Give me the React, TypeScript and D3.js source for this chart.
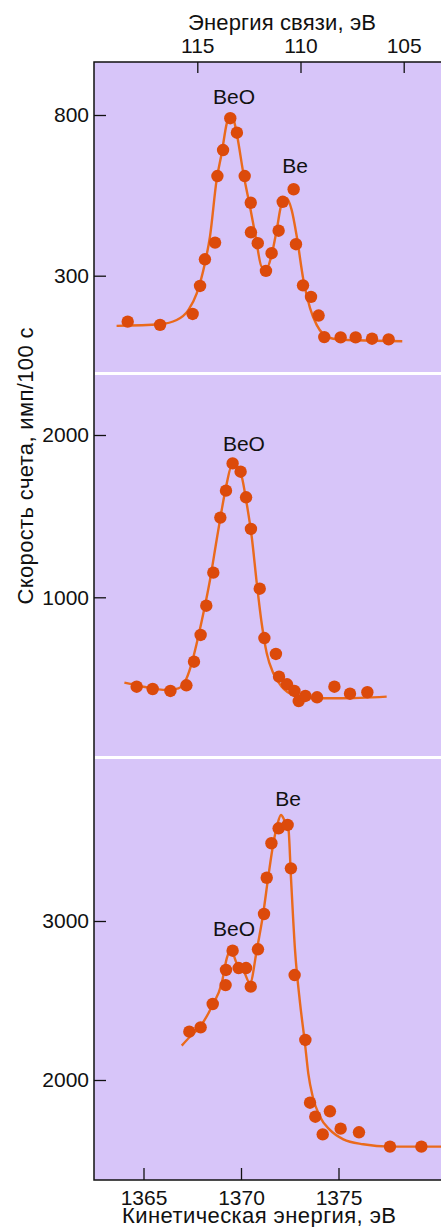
import React, { useRef, useEffect } from 'react';
import * as d3 from 'd3';

// kinetic energy (eV) / count rate pairs
const topDots: [number, number][] = [
  [1364.19, 157], [1365.85, 147], [1367.52, 181], [1367.9, 268], [1368.15, 351],
  [1368.67, 403], [1368.79, 610], [1369.08, 691], [1369.45, 790], [1369.79, 745],
  [1370.19, 610], [1370.5, 527], [1370.51, 435], [1370.86, 401], [1371.28, 315],
  [1371.57, 370], [1371.93, 440], [1372.14, 530], [1372.7, 569], [1372.82, 398],
  [1373.18, 270], [1373.59, 234], [1373.98, 176], [1374.27, 109], [1375.11, 108],
  [1375.88, 108], [1376.72, 104], [1377.57, 102],
];
const topFit: [number, number][] = [
  [1363.62, 144], [1365.85, 149], [1366.7, 162], [1367.3, 193], [1367.73, 245],
  [1368.15, 339], [1368.41, 422], [1368.75, 598], [1369.01, 681], [1369.27, 774],
  [1369.44, 800], [1369.64, 782], [1369.81, 733], [1370.12, 619], [1370.46, 515],
  [1370.75, 422], [1371.06, 328], [1371.32, 323], [1371.57, 365], [1371.83, 442],
  [1372.09, 525], [1372.34, 541], [1372.6, 504], [1372.86, 422], [1373.2, 287],
  [1373.54, 199], [1373.88, 147], [1374.22, 118], [1374.73, 104], [1375.93, 99],
  [1378.27, 96],
];

const midDots: [number, number][] = [
  [1364.65, 449], [1365.47, 435], [1366.38, 423], [1367.2, 458], [1367.59, 603],
  [1367.93, 768], [1368.22, 948], [1368.58, 1152], [1368.94, 1491], [1369.23, 1657],
  [1369.57, 1825], [1369.98, 1774], [1370.26, 1616], [1370.51, 1421], [1370.96, 1053],
  [1371.2, 749], [1371.79, 651], [1371.95, 511], [1372.36, 464], [1372.74, 423],
  [1372.96, 361], [1373.3, 392], [1373.9, 384], [1374.79, 449], [1375.59, 406],
  [1376.48, 415],
];
const midFit: [number, number][] = [
  [1364.02, 474], [1364.99, 449], [1366.19, 429], [1366.79, 439], [1367.21, 501],
  [1367.47, 593], [1367.73, 717], [1368.07, 901], [1368.41, 1107], [1368.75, 1353],
  [1369.01, 1538], [1369.27, 1702], [1369.52, 1809], [1369.78, 1801], [1370.04, 1743],
  [1370.29, 1579], [1370.55, 1373], [1370.81, 1086], [1371.06, 840], [1371.32, 655],
  [1371.66, 532], [1372.09, 449], [1372.68, 398], [1373.54, 378], [1375.08, 378],
  [1377.47, 388],
];

const lowDots: [number, number][] = [
  [1367.35, 2304], [1367.93, 2331], [1368.55, 2478], [1369.21, 2597], [1369.23, 2692],
  [1369.57, 2813], [1369.88, 2704], [1370.26, 2704], [1370.5, 2587], [1370.87, 2822],
  [1371.18, 3044], [1371.32, 3272], [1371.56, 3489], [1371.93, 3583], [1372.39, 3604],
  [1372.56, 3331], [1372.75, 2660], [1373.3, 2252], [1373.54, 1857], [1373.81, 1769],
  [1374.56, 1803], [1374.19, 1658], [1375.11, 1694], [1376.05, 1671], [1377.64, 1581],
  [1379.25, 1581],
];
const lowFit: [number, number][] = [
  [1366.96, 2216], [1367.38, 2272], [1367.9, 2335], [1368.5, 2461], [1369.01, 2608],
  [1369.27, 2765], [1369.47, 2822], [1369.78, 2734], [1370.15, 2681], [1370.46, 2608],
  [1370.81, 2818], [1371.14, 3048], [1371.4, 3279], [1371.66, 3489], [1371.86, 3604],
  [1372.05, 3667], [1372.26, 3625], [1372.43, 3583], [1372.56, 3279], [1372.77, 2818],
  [1373.03, 2482], [1373.28, 2231], [1373.45, 2042], [1373.68, 1895], [1374.05, 1769],
  [1374.56, 1686], [1375.25, 1627], [1376.27, 1596], [1377.64, 1581], [1380.3, 1581],
];

const kineticTicks = [1365, 1370, 1375];
const bindingTicks = [115, 110, 105];
const topTicks = [300, 800];
const midTicks = [1000, 2000];
const lowTicks = [2000, 3000];

const topLabels: [string, number, number][] = [['BeO', 1369.64, 834], ['Be', 1372.77, 620]];
const midLabels: [string, number, number][] = [['BeO', 1370.15, 1901]];
const lowLabels: [string, number, number][] = [['Be', 1372.41, 3725], ['BeO', 1369.64, 2908]];

const W = 441;
const H = 1227;
const FONT = '"Liberation Sans", Arial, Helvetica, sans-serif';
const BG = '#d7c5f9';
const DOT = '#dc4a0b';
const LINE = '#ea6a1c';

const App = () => {
  const svgRef = useRef<SVGSVGElement>(null);

  useEffect(() => {
    const svg = d3.select(svgRef.current);
    svg.selectAll('*').remove();

    const left = 94;
    const top = 62;
    const bottom = 1180;

    const x = d3.scaleLinear().domain([1365, 1375]).range([143.5, 338.5]);
    const xTop = d3.scaleLinear().domain([115, 105]).range([197.3, 403.7]);

    svg.append('rect')
      .attr('x', left).attr('y', top)
      .attr('width', W - left).attr('height', bottom - top)
      .attr('fill', BG);

    const panels = [
      { dots: topDots, fit: topFit, ticks: topTicks, labels: topLabels,
        y: d3.scaleLinear().domain([300, 800]).range([275.7, 115]) },
      { dots: midDots, fit: midFit, ticks: midTicks, labels: midLabels,
        y: d3.scaleLinear().domain([1000, 2000]).range([597.3, 435]) },
      { dots: lowDots, fit: lowFit, ticks: lowTicks, labels: lowLabels,
        y: d3.scaleLinear().domain([2000, 3000]).range([1080, 921]) },
    ];

    // white separators between panels
    [373.5, 757.5].forEach(yy => {
      svg.append('line')
        .attr('x1', left + 1).attr('x2', W)
        .attr('y1', yy).attr('y2', yy)
        .attr('stroke', '#fff').attr('stroke-width', 3);
    });

    panels.forEach(p => {
      const line = d3.line<[number, number]>()
        .x(d => x(d[0]))
        .y(d => p.y(d[1]))
        .curve(d3.curveMonotoneX);

      svg.append('path')
        .datum(p.fit)
        .attr('fill', 'none')
        .attr('stroke', LINE)
        .attr('stroke-width', 2.4)
        .attr('d', line);

      svg.append('g')
        .selectAll('circle')
        .data(p.dots)
        .enter()
        .append('circle')
        .attr('cx', d => x(d[0]))
        .attr('cy', d => p.y(d[1]))
        .attr('r', 6.2)
        .attr('fill', DOT);

      svg.append('g')
        .selectAll('text')
        .data(p.labels)
        .enter()
        .append('text')
        .attr('x', d => x(d[1]))
        .attr('y', d => p.y(d[2]))
        .attr('text-anchor', 'middle')
        .style('font-family', FONT)
        .style('font-size', '21px')
        .attr('fill', '#111')
        .text(d => d[0]);

      const yAxis = d3.axisLeft(p.y)
        .tickValues(p.ticks)
        .tickFormat(d3.format('d'))
        .tickSizeInner(-12)
        .tickSizeOuter(0)
        .tickPadding(5);

      svg.append('g')
        .attr('transform', `translate(${left},0)`)
        .call(yAxis)
        .call(g => g.select('.domain').remove());
    });

    const xAxis = d3.axisBottom(x)
      .tickValues(kineticTicks)
      .tickFormat(d3.format('d'))
      .tickSizeInner(-12)
      .tickSizeOuter(0)
      .tickPadding(10);

    svg.append('g')
      .attr('transform', `translate(0,${bottom})`)
      .call(xAxis)
      .call(g => g.select('.domain').remove());

    const topAxis = d3.axisTop(xTop)
      .tickValues(bindingTicks)
      .tickFormat(d3.format('d'))
      .tickSizeInner(-11)
      .tickSizeOuter(0)
      .tickPadding(9);

    svg.append('g')
      .attr('transform', `translate(0,${top})`)
      .call(topAxis)
      .call(g => g.select('.domain').remove());

    svg.selectAll('.tick text')
      .style('font-family', FONT)
      .style('font-size', '21px')
      .attr('fill', '#111');
    svg.selectAll('.tick line')
      .attr('stroke', '#111')
      .attr('stroke-width', 1.3);

    // frame: left, top and bottom edges
    svg.append('path')
      .attr('d', `M${W},${top}H${left}V${bottom}H${W}`)
      .attr('fill', 'none')
      .attr('stroke', '#111')
      .attr('stroke-width', 1.5);

    const title = (text: string, tx: number, ty: number, len: number, rot = 0) =>
      svg.append('text')
        .attr('transform', `translate(${tx},${ty}) rotate(${rot})`)
        .attr('text-anchor', 'middle')
        .attr('textLength', len)
        .style('font-family', FONT).style('font-size', '22px')
        .attr('fill', '#111')
        .text(text);

    title('Энергия связи, эВ', 282, 30, 188);
    title('Кинетическая энергия, эВ', 259, 1223, 274);
    title('Скорость счета, имп/100 с', 33, 466, 277, -90);
  }, []);

  return (
    <div style={{ position: 'absolute', left: 0, top: 0, width: W, height: H }}>
      <svg ref={svgRef} width={W} height={H} style={{ display: 'block' }}></svg>
    </div>
  );
};

export default App;
